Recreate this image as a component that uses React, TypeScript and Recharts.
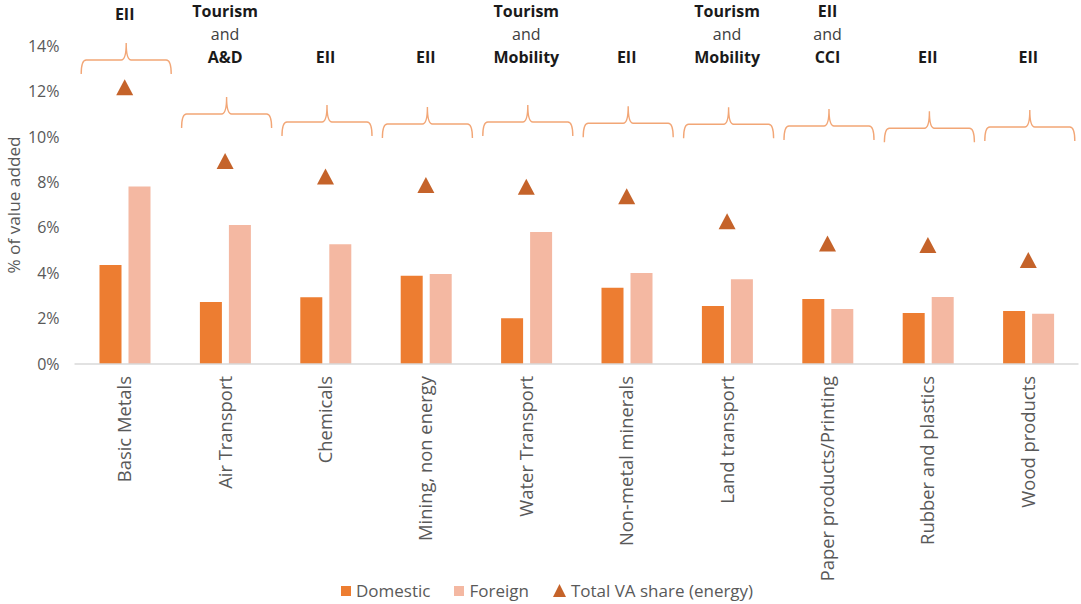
import React from "react";
import {
  Bar,
  ComposedChart,
  Legend,
  Scatter,
  XAxis,
  YAxis,
} from "recharts";

const FONT = "'Open Sans', 'Noto Sans', sans-serif";

const categories = [
  "Basic Metals",
  "Air Transport",
  "Chemicals",
  "Mining, non energy",
  "Water Transport",
  "Non-metal minerals",
  "Land transport",
  "Paper products/Printing",
  "Rubber and plastics",
  "Wood products",
];

// shares in % of value added
const domestic = [4.36, 2.73, 2.94, 3.89, 2.01, 3.36, 2.55, 2.86, 2.25, 2.33];
const foreign = [7.81, 6.12, 5.27, 3.96, 5.81, 4.01, 3.73, 2.42, 2.95, 2.21];
const totalShare = [12.18, 8.94, 8.25, 7.88, 7.8, 7.38, 6.28, 5.31, 5.24, 4.58];

// ecosystem each sector belongs to, shown above a brace
const ecosystems = [
  ["EII"],
  ["Tourism", "and", "A&D"],
  ["EII"],
  ["EII"],
  ["Tourism", "and", "Mobility"],
  ["EII"],
  ["Tourism", "and", "Mobility"],
  ["EII", "and", "CCI"],
  ["EII"],
  ["EII"],
];

// level (in %) where the brace feet sit
const braceLevels = [12.77, 10.39, 10.04, 9.95, 10.04, 9.98, 9.94, 9.86, 9.76, 9.82];

const yTicks = [0, 2, 4, 6, 8, 10, 12, 14];

const data = categories.map((name, i) => ({
  name,
  domestic: domestic[i],
  foreign: foreign[i],
  total: totalShare[i],
  brace: braceLevels[i],
  ecosystem: ecosystems[i],
}));

const COLORS = {
  domestic: "#ED7D31",
  foreign: "#F4B8A2",
  total: "#C5632A",
  brace: "#F2A676",
  text: "#595959",
};

function Triangle(props: any) {
  const { cx, cy } = props;
  if (cx == null || cy == null) return null;
  return (
    <polygon
      points={`${cx},${cy - 8} ${cx + 8.5},${cy + 8} ${cx - 8.5},${cy + 8}`}
      fill={COLORS.total}
    />
  );
}

function Brace(props: any) {
  const { cx: rawCx, cy, payload } = props;
  if (rawCx == null || cy == null) return null;
  const cx = rawCx + 1.5;
  const w = 45;
  const h1 = 14;
  const h2 = 17;
  const r = 5;
  const top = cy - h1;
  const tip = top - h2;
  const d = [
    `M ${cx - w} ${cy}`,
    `Q ${cx - w} ${top} ${cx - w + r} ${top}`,
    `L ${cx - r} ${top}`,
    `Q ${cx} ${top} ${cx} ${tip}`,
    `Q ${cx} ${top} ${cx + r} ${top}`,
    `L ${cx + w - r} ${top}`,
    `Q ${cx + w} ${top} ${cx + w} ${cy}`,
  ].join(" ");
  const lines: string[] = payload.ecosystem;
  const lastCenter = Math.min(57, tip - 28);
  return (
    <g>
      <path d={d} fill="none" stroke={COLORS.brace} strokeWidth={1.4} />
      {lines.map((line, i) => {
        const isJoin = line === "and";
        return (
          <text
            key={i}
            x={rawCx}
            y={lastCenter - (lines.length - 1 - i) * 23}
            dy={5.5}
            textAnchor="middle"
            fontFamily={FONT}
            fontSize={16}
            fontWeight={isJoin ? 400 : 700}
            fill={isJoin ? "#404040" : "#1a1a1a"}
          >
            {line}
          </text>
        );
      })}
    </g>
  );
}

function CategoryTick(props: any) {
  const { x, y, payload } = props;
  return (
    <text
      transform={`translate(${x}, ${y + 4}) rotate(-90)`}
      textAnchor="end"
      dy="0.35em"
      fontFamily={FONT}
      fontSize={18.4}
      fill={COLORS.text}
    >
      {payload.value}
    </text>
  );
}

function AxisTitle(props: any) {
  const vb = props.viewBox || {};
  const cy = (vb.y ?? 46) + (vb.height ?? 318) / 2;
  const cx = 14;
  return (
    <text
      transform={`translate(${cx}, ${cy}) rotate(-90)`}
      textAnchor="middle"
      dy="0.35em"
      fontFamily={FONT}
      fontSize={17.2}
      fill={COLORS.text}
    >
      % of value added
    </text>
  );
}

function LegendContent() {
  const item = { display: "flex", alignItems: "center", gap: 5 } as const;
  return (
    <div
      style={{
        display: "flex",
        alignItems: "center",
        gap: 24,
        paddingLeft: 341,
        fontFamily: FONT,
        fontSize: 17,
        color: COLORS.text,
        whiteSpace: "nowrap",
      }}
    >
      <div style={item}>
        <span style={{ width: 10, height: 10, background: COLORS.domestic, display: "inline-block" }} />
        <span>Domestic</span>
      </div>
      <div style={item}>
        <span style={{ width: 10, height: 10, background: COLORS.foreign, display: "inline-block" }} />
        <span>Foreign</span>
      </div>
      <div style={item}>
        <svg width={13} height={13}>
          <polygon points="6.5,0 13,13 0,13" fill={COLORS.total} />
        </svg>
        <span>Total VA share (energy)</span>
      </div>
    </div>
  );
}

export default function App() {
  return (
    <div style={{ position: "absolute", left: 0, top: 0, background: "#fff" }}>
      <ComposedChart
        width={1081}
        height={604}
        data={data}
        margin={{ top: 46, right: 2.5, bottom: 0, left: 0 }}
        barGap={7}
      >
        <XAxis
          dataKey="name"
          height={240}
          tickLine={false}
          axisLine={{ stroke: "#D9D9D9", strokeWidth: 1.5 }}
          tick={<CategoryTick />}
          interval={0}
        />
        <YAxis
          width={74.5}
          domain={[0, 14]}
          ticks={yTicks}
          axisLine={false}
          tickLine={false}
          tickSize={0}
          tickMargin={15}
          tickFormatter={(v: number) => `${v}%`}
          tick={{ fontFamily: FONT, fontSize: 16, fill: COLORS.text }}
          label={{ content: <AxisTitle /> }}
        />
        <Bar dataKey="domestic" name="Domestic" fill={COLORS.domestic} barSize={22} isAnimationActive={false} />
        <Bar dataKey="foreign" name="Foreign" fill={COLORS.foreign} barSize={22} isAnimationActive={false} />
        <Scatter
          dataKey="total"
          name="Total VA share (energy)"
          shape={<Triangle />}
          isAnimationActive={false}
        />
        <Scatter dataKey="brace" legendType="none" shape={<Brace />} isAnimationActive={false} />
        <Legend
          layout="horizontal"
          verticalAlign="middle"
          align="center"
          wrapperStyle={{ top: 579, left: 0, width: 1081 }}
          content={<LegendContent />}
        />
      </ComposedChart>
    </div>
  );
}
